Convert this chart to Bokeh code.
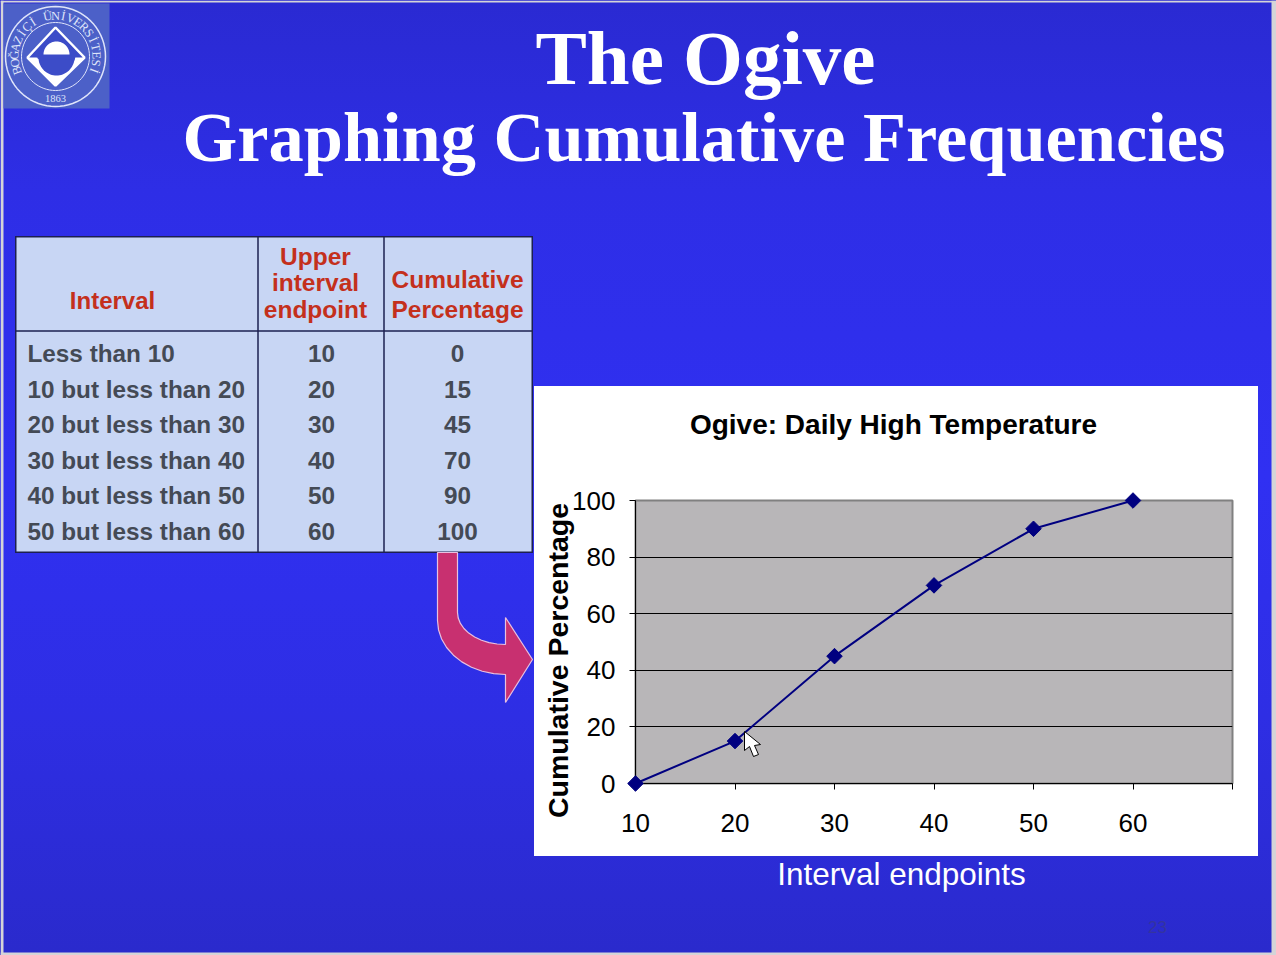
import math
from bokeh.embed import file_html
from bokeh.resources import INLINE
from bokeh.plotting import figure
from bokeh.models import FixedTicker, Range1d
from bokeh.core.properties import value

# ---- data ----
interval_labels = ["Less than 10", "10 but less than 20", "20 but less than 30",
                   "30 but less than 40", "40 but less than 50", "50 but less than 60"]
upper_endpoints = [10, 20, 30, 40, 50, 60]
cumulative_pct = [0, 15, 45, 70, 90, 100]
x_ticks = [10, 20, 30, 40, 50, 60, 70]
y_ticks = [0, 20, 40, 60, 80, 100]
table_headers = ["Interval", ["Upper", "interval", "endpoint"], ["Cumulative", "Percentage"]]

W, H = 1276, 955
SANS = "Liberation Sans"
SERIF = "Liberation Serif"

# ---- slide background: a figure whose data space is the page in pixels ----
bg = figure(width=W, height=H, output_backend="svg", toolbar_location=None,
            x_range=Range1d(0, W), y_range=Range1d(H, 0), x_axis_location=None, y_axis_location=None,
            min_border=0, background_fill_color=None, border_fill_color=None, outline_line_color=None,
            styles={"position": "absolute", "left": "0px", "top": "0px",
                    "background": "linear-gradient(180deg,#2a2ad2 0%,#2e2ee6 20%,#3030f2 50%,#2e2ee4 75%,#2a2acc 100%)"})
bg.grid.visible = False


def box(l, r, t, b, color):
    bg.quad(left=[l], right=[r], top=[t], bottom=[b], fill_color=color, line_color=None)


def text(x, y, s, size, color="#444a55", font=SANS, style="bold", align="center", angle=0, fig=None):
    (fig or bg).text(x=[x], y=[y], text=[s], text_font=value(font), text_font_size=f"{size}px",
                     text_font_style=style, text_color=color, text_align=align, text_baseline="middle", angle=angle)


def poly(pts, fill=None, line=None, lw=1, fig=None):
    (fig or bg).patch([q[0] for q in pts], [q[1] for q in pts], fill_color=fill, fill_alpha=1 if fill else 0,
                      line_color=line, line_alpha=1 if line else 0, line_width=lw)


def circle_pts(cx, cy, r, a0=0, a1=360, n=72):
    return [(cx + r * math.cos(math.radians(a0 + (a1 - a0) * i / n)),
             cy + r * math.sin(math.radians(a0 + (a1 - a0) * i / n))) for i in range(n + 1)]


# slide frame edges
box(0, 3, 0, H, "#d4d4d8")
box(1271, W, 0, H, "#d4d4d8")
box(0, W, 0, 2, "#d4d4d8")
box(0, W, 952, H, "#d4d4d8")

# white chart panel
box(533.5, 1257.5, 385.5, 855.5, "#ffffff")

# logo
box(3, 109, 3, 108, "#4c60c8")
LC = "#dfe4fa"
poly(circle_pts(55, 56, 50), None, LC, 1.5)
poly(circle_pts(55, 56, 34), None, LC, 1)
poly([(55, 27), (84, 57), (55, 85), (27, 57)], "#3c4cc8", "#ffffff", 2.5)
poly([(28, 57), (84, 57), (55, 85)], "#ffffff")
poly(circle_pts(56, 57, 18), "#3c4cc8")
poly(circle_pts(56, 54, 13, 180, 360), "#ffffff")
poly([(36, 57), (46, 55), (70, 55), (76, 52), (74, 60), (60, 58), (40, 60)], "#3c4cc8")
ring_text = "BOĞAZİÇİ ÜNİVERSİTESİ"
for i, ch in enumerate(ring_text):
    a = -200 + 220 * i / (len(ring_text) - 1)
    text(55 + 41 * math.cos(math.radians(a)), 56 + 41 * math.sin(math.radians(a)), ch, 12.5, LC, SERIF, "normal",
         angle=-math.radians(a + 90))
text(55, 98, "1863", 10.5, LC, SERIF, "normal")

# slide title
text(705, 57, "The Ogive", 77, "#ffffff", SERIF)
text(703.5, 136, "Graphing Cumulative Frequencies", 70.4, "#ffffff", SERIF)

# table
TL, C1, C2, TR, TT, HB, TB = 15.5, 257.5, 383.5, 531.5, 236.5, 330.5, 551.5
TC = "#1c2050"
box(TL, TR, TT, TB, "#c8d6f4")
for v in (C1, C2):
    box(v - 0.75, v + 0.75, TT, TB, TC)
box(TL, TR, HB - 0.75, HB + 0.75, TC)
for a, b, c, d in [(TL - 1, TR + 1, TT - 1, TT + 0.5), (TL - 1, TR + 1, TB - 0.5, TB + 1),
                   (TL - 1, TL + 0.5, TT, TB), (TR - 0.5, TR + 1, TT, TB)]:
    box(a, b, c, d, TC)
RED = "#c4301c"
text(112, 300, table_headers[0], 24, RED)
for y, s in zip((256, 282, 309), table_headers[1]):
    text(315, y, s, 24.5, RED)
for y, s in zip((279, 309), table_headers[2]):
    text(457, y, s, 24.5, RED)
row_y = [353, 389, 424, 460, 495, 531]
for y, lab, u, c in zip(row_y, interval_labels, upper_endpoints, cumulative_pct):
    text(27, y, lab, 24.3, align="left")
    text(321, y, str(u), 24.3)
    text(457, y, str(c), 24.3)

# curved arrow
arrow = [(437, 552), (457, 552), (457, 612)]
arrow += [(505 - 48 * math.cos(math.radians(a)), 612 + 32 * math.sin(math.radians(a))) for a in range(0, 91, 10)]
arrow += [(505, 617), (532, 659), (505, 702), (505, 674)]
arrow += [(505 - 68 * math.sin(math.radians(a)), 620 + 54 * math.cos(math.radians(a))) for a in range(0, 91, 10)]
poly(arrow, "#c83070", "#e8c0e0", 1.2)

# page number
text(1157, 926, "23", 17, "#3434a0", SANS, "normal")

text(893, 424, "Ogive: Daily High Temperature", 28, "#000000")
text(557, 660, "Cumulative Percentage", 28.5, "#000000", angle=math.pi / 2)
text(901, 873, "Interval endpoints", 31.5, "#ffffff", style="normal")

# ---- the ogive chart itself ----
FL, FT, CW, CH = 534, 386, 724, 470
p = figure(width=CW, height=CH, output_backend="svg", toolbar_location=None,
           x_range=Range1d(10, 70), y_range=Range1d(0, 100),
           min_border_left=101, min_border_right=26, min_border_top=114, min_border_bottom=73,
           background_fill_color="#b8b6b8", border_fill_color=None,
           outline_line_color="#808080", outline_line_width=2,
           styles={"position": "absolute", "left": f"{FL}px", "top": f"{FT}px"})

p.xaxis.ticker = FixedTicker(ticks=x_ticks)
p.xaxis.major_label_overrides = {70: ""}
p.yaxis.ticker = FixedTicker(ticks=y_ticks)
for ax in (p.xaxis, p.yaxis):
    ax.major_label_text_font = SANS
    ax.major_label_text_font_size = "26px"
    ax.major_label_text_color = "#000000"
    ax.axis_line_color = "#000000"
    ax.major_tick_line_color = "#000000"
    ax.minor_tick_line_color = None
    ax.major_tick_out = 6
    ax.major_tick_in = 0
p.xaxis.major_label_standoff = 24
p.yaxis.major_label_standoff = 14
p.xgrid.visible = False
p.ygrid.grid_line_color = "#000000"
p.ygrid.grid_line_width = 1
p.ygrid.ticker = FixedTicker(ticks=y_ticks)

p.line(upper_endpoints, cumulative_pct, line_color="#000080", line_width=2, level="overlay")
p.scatter(upper_endpoints, cumulative_pct, marker="square", angle=math.pi / 4, size=11, fill_color="#000080",
          line_color="#000080", level="overlay")

# mouse cursor (page pixels converted to the chart's data space)
cursor_px = [(744, 731), (744, 750), (749, 746), (753, 756), (758, 754), (754, 745), (760, 744)]
cur = p.patch([10 + (x - 635) / 9.95 for x, y in cursor_px], [(783 - y) / 2.83 for x, y in cursor_px],
              fill_color="#ffffff", line_color="#000000", line_width=1, level="overlay")

open("out.html", "w").write(file_html([bg, p], INLINE))
